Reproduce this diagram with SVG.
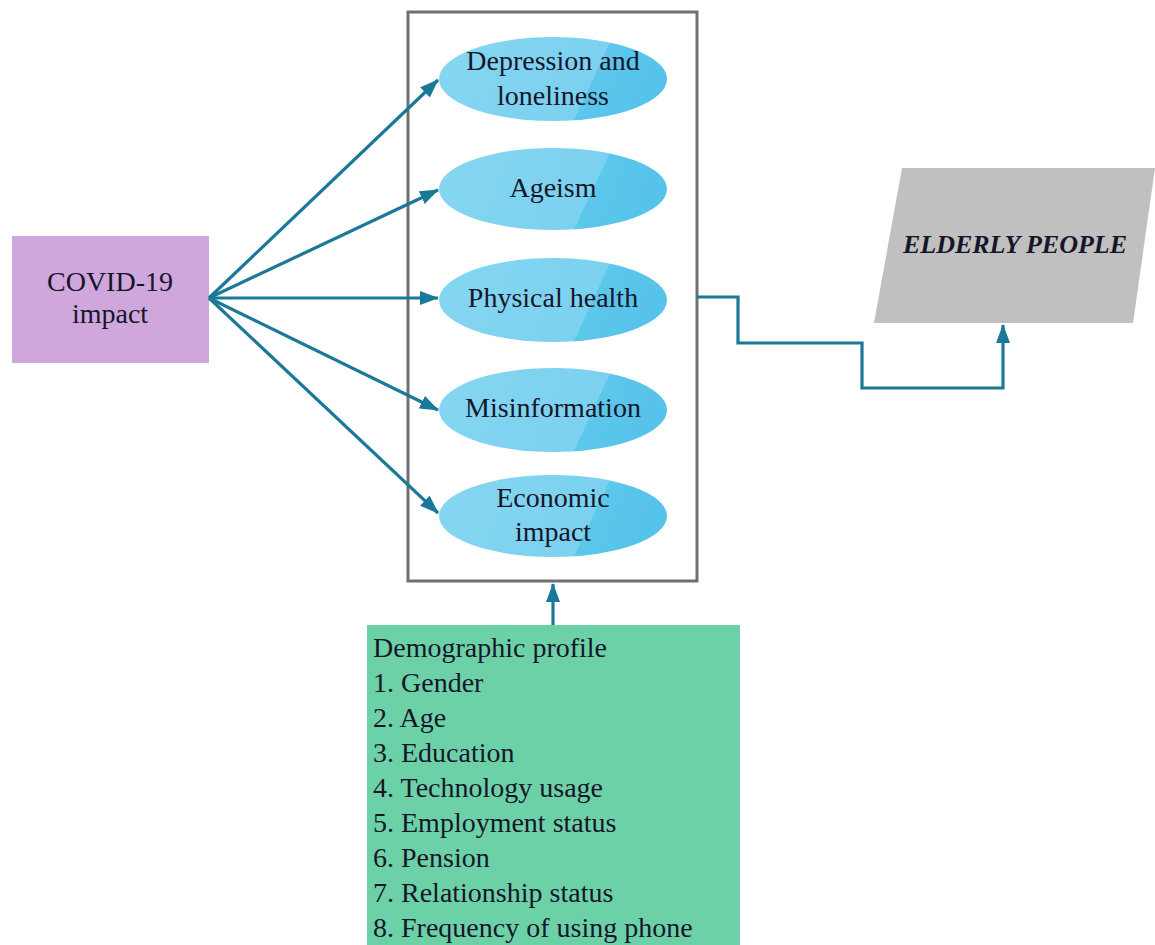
<svg xmlns="http://www.w3.org/2000/svg" width="1155" height="945" viewBox="0 0 1155 945">
<style>
.t{font-size:28px;fill:#16162a}
.c{text-anchor:middle}
.ell{fill:url(#eg)}
.con{fill:none;stroke:#1b7898;stroke-width:3.2}
</style>
<defs>
<linearGradient id="eg" x1="0" y1="0" x2="1" y2="0.17">
<stop offset="0" stop-color="#86d6f1"/>
<stop offset="0.739" stop-color="#7bd1ef"/>
<stop offset="0.739" stop-color="#5dc7ec"/>
<stop offset="1" stop-color="#56c3ea"/>
</linearGradient>
<marker id="ah" markerUnits="userSpaceOnUse" markerWidth="20" markerHeight="14" refX="18" refY="7" orient="auto">
<path d="M0,0 L19,7 L0,14 z" fill="#1b7898"/>
</marker>
</defs>
<rect width="1155" height="945" fill="#ffffff"/>
<g id="frame">
<rect x="408" y="12" width="289" height="569" fill="none" stroke="#707070" stroke-width="3"/>
</g>
<g font-family="Liberation Serif, serif">
<g id="covid">
<rect x="12" y="236" width="197" height="127" fill="#cfa7dc"/>
<text class="t c" x="110" y="291">COVID-19</text>
<text class="t c" x="110" y="323">impact</text>
</g>
<g id="depression">
<ellipse class="ell" cx="553" cy="79" rx="114" ry="42"/>
<text class="t c" x="553" y="70">Depression and</text>
<text class="t c" x="553" y="105">loneliness</text>
</g>
<g id="ageism">
<ellipse class="ell" cx="553" cy="189" rx="114" ry="41"/>
<text class="t c" x="553" y="197">Ageism</text>
</g>
<g id="physical">
<ellipse class="ell" cx="553" cy="300" rx="114" ry="42"/>
<text class="t c" x="553" y="307">Physical health</text>
</g>
<g id="misinformation">
<ellipse class="ell" cx="553" cy="410" rx="114" ry="42"/>
<text class="t c" x="553" y="417">Misinformation</text>
</g>
<g id="economic">
<ellipse class="ell" cx="553" cy="516" rx="114" ry="41"/>
<text class="t c" x="553" y="507">Economic</text>
<text class="t c" x="553" y="541">impact</text>
</g>
<g id="elderly">
<polygon points="902,168 1155,168 1133,323 874,323" fill="#c0c0c0"/>
<text class="t c" x="1015" y="253" font-size="26" font-weight="bold" font-style="italic" style="font-size:26px" fill="#111">ELDERLY PEOPLE</text>
</g>
<g id="demographic">
<rect x="367" y="625" width="373" height="330" fill="#6dd1a8"/>
<text class="t" x="373" y="657">Demographic profile</text>
<text class="t" x="373" y="692">1. Gender</text>
<text class="t" x="373" y="727">2. Age</text>
<text class="t" x="373" y="762">3. Education</text>
<text class="t" x="373" y="797">4. Technology usage</text>
<text class="t" x="373" y="832">5. Employment status</text>
<text class="t" x="373" y="867">6. Pension</text>
<text class="t" x="373" y="902">7. Relationship status</text>
<text class="t" x="373" y="937">8. Frequency of using phone</text>
</g>
</g>
<g id="connectors">
<line class="con" x1="209" y1="298" x2="438" y2="80" marker-end="url(#ah)"/>
<line class="con" x1="209" y1="298" x2="438" y2="190" marker-end="url(#ah)"/>
<line class="con" x1="209" y1="298" x2="438" y2="298" marker-end="url(#ah)"/>
<line class="con" x1="209" y1="298" x2="438" y2="410" marker-end="url(#ah)"/>
<line class="con" x1="209" y1="298" x2="438" y2="513" marker-end="url(#ah)"/>
<line class="con" x1="553" y1="625" x2="553" y2="584" marker-end="url(#ah)"/>
<polyline class="con" points="697,297 738,297 738,343 862,343 862,388 1003,388 1003,325" marker-end="url(#ah)"/>
</g>
</svg>
